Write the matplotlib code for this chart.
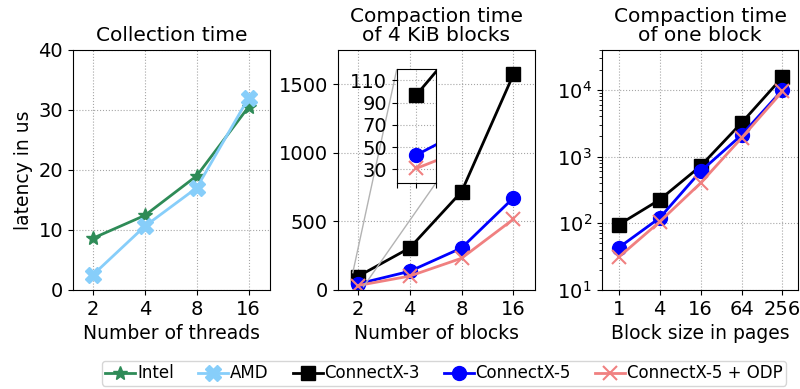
import numpy as np
import matplotlib
matplotlib.use("Agg")
import matplotlib.pyplot as plt
from mpl_toolkits.axes_grid1.inset_locator import mark_inset

threads = ["2", "4", "8", "16"]
intel = [8.6, 12.4, 19.0, 30.5]
amd = [2.5, 10.6, 17.0, 32.0]

blocks = ["2", "4", "8", "16"]
cx3_blocks = [97, 305, 715, 1570]
cx5_blocks = [43, 135, 305, 670]
odp_blocks = [31, 100, 230, 515]

pages = ["1", "4", "16", "64", "256"]
cx3_pages = [95, 225, 720, 3200, 15500]
cx5_pages = [43, 120, 600, 2100, 10000]
odp_pages = [31, 105, 400, 1900, 9500]

plt.rcParams['font.size'] = 14

fig = plt.figure(figsize=(8, 3.89), dpi=100)
ax1 = fig.add_axes([0.091, 0.255, 0.247, 0.617])
ax2 = fig.add_axes([0.422, 0.255, 0.247, 0.617])
ax3 = fig.add_axes([0.752, 0.255, 0.246, 0.617])

styles = {
    'Intel': dict(color='seagreen', marker='*', markersize=10),
    'AMD': dict(color='lightskyblue', marker='X', markersize=11),
    'ConnectX-3': dict(color='black', marker='s', markersize=10),
    'ConnectX-5': dict(color='blue', marker='o', markersize=10),
    'ConnectX-5 + ODP': dict(color='lightcoral', marker='x', markersize=10, markeredgewidth=1.5),
}

x = np.arange(len(threads))
ax1.plot(x, intel, lw=2, label='Intel', **styles['Intel'])
ax1.plot(x, amd, lw=2, label='AMD', **styles['AMD'])
ax1.set_xticks(x)
ax1.set_xticklabels(threads)
ax1.set_ylim(0, 40)
ax1.set_yticks([0, 10, 20, 30, 40])
ax1.set_xlim(-0.39, 3.42)
ax1.set_title('Collection time', fontsize=14.5)
ax1.set_xlabel('Number of threads', fontsize=13.5)
ax1.set_ylabel('latency in us', fontsize=13.5)

x = np.arange(len(blocks))
for name, vals in [('ConnectX-3', cx3_blocks), ('ConnectX-5', cx5_blocks), ('ConnectX-5 + ODP', odp_blocks)]:
    ax2.plot(x, vals, lw=2, label=name, **styles[name])
ax2.set_xticks(x)
ax2.set_xticklabels(blocks)
ax2.set_ylim(0, 1750)
ax2.set_yticks([0, 500, 1000, 1500])
ax2.set_xlim(-0.39, 3.42)
ax2.set_title('Compaction time\nof 4 KiB blocks', fontsize=14.5, linespacing=1.0)
ax2.set_xlabel('Number of blocks', fontsize=13.5)

# zoomed inset for the 2-block values
axins = fig.add_axes([0.496, 0.53, 0.049, 0.292])
for name, vals in [('ConnectX-3', cx3_blocks), ('ConnectX-5', cx5_blocks), ('ConnectX-5 + ODP', odp_blocks)]:
    axins.plot(x, vals, lw=2, **styles[name])
axins.set_xlim(-0.1, 0.1)
axins.set_ylim(18, 120)
axins.set_xticks([-0.1, 0, 0.1])
axins.set_xticklabels([])
axins.set_yticks([30, 50, 70, 90, 110])
axins.tick_params(labelsize=14)
axins.grid(True, linestyle=':', color='gray', alpha=0.7)
mark_inset(ax2, axins, loc1=2, loc2=4, fc='none', ec='0.7')

x = np.arange(len(pages))
for name, vals in [('ConnectX-3', cx3_pages), ('ConnectX-5', cx5_pages), ('ConnectX-5 + ODP', odp_pages)]:
    ax3.plot(x, vals, lw=2, **styles[name])
ax3.set_yscale('log')
ax3.set_ylim(10, 40000)
ax3.set_xticks(x)
ax3.set_xticklabels(pages)
ax3.set_xlim(-0.42, 4.39)
ax3.set_title('Compaction time\nof one block', fontsize=14.5, linespacing=1.0)
ax3.set_xlabel('Block size in pages', fontsize=13.5)

for ax in (ax1, ax2, ax3):
    ax.grid(True, linestyle=':', color='gray', alpha=0.7)

handles = [ax1.lines[0], ax1.lines[1]] + ax2.lines[:3]
labels = ['Intel', 'AMD', 'ConnectX-3', 'ConnectX-5', 'ConnectX-5 + ODP']
fig.legend(handles, labels, loc='center', ncol=5, fontsize=12,
           bbox_to_anchor=(0.555, 0.04), handlelength=1.8, handletextpad=0.1,
           columnspacing=1.45, borderpad=0.2, borderaxespad=0)

fig.savefig("out.png", dpi=100)
